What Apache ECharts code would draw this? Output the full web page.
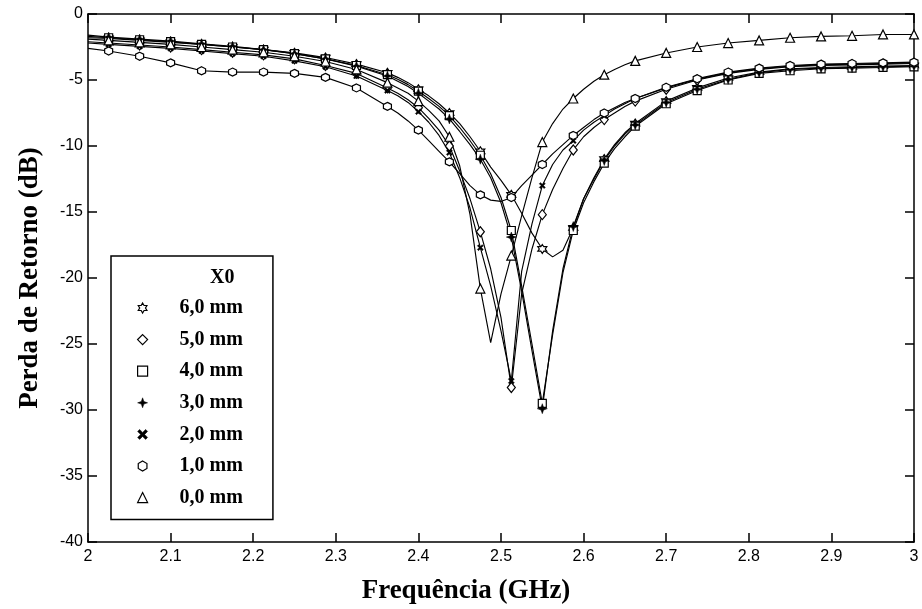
<!DOCTYPE html>
<html>
<head>
<meta charset="utf-8">
<script src="https://cdn.jsdelivr.net/npm/echarts@6/dist/echarts.min.js"></script>
<style>
  html, body { margin: 0; padding: 0; background: #fff; }
  #chart { width: 922px; height: 609px; }
</style>
</head>
<body>
<div id="chart"></div>
<script>
// Frequency samples (GHz); markers sit every 0.0375 GHz starting at 2.025
const freq = [2.0, 2.025, 2.0625, 2.1, 2.1375, 2.175, 2.2125, 2.25, 2.2875, 2.325, 2.3625,
  2.375, 2.3875, 2.4, 2.4125, 2.425, 2.4375, 2.45, 2.4625, 2.475, 2.4875, 2.5, 2.5125,
  2.525, 2.5375, 2.55, 2.5625, 2.575, 2.5875, 2.6, 2.6125, 2.625, 2.6375, 2.65,
  2.6625, 2.7, 2.7375, 2.775, 2.8125, 2.85, 2.8875, 2.925, 2.9625, 3.0];

// Return loss (dB) for each feed offset X0
const rl60 = [-1.8, -1.85, -2.0, -2.15, -2.3, -2.5, -2.7, -2.95, -3.3, -3.8, -4.45,
  -4.8, -5.2, -5.7, -6.2, -6.8, -7.5, -8.3, -9.3, -10.4, -11.6, -12.6, -13.7, -15.1, -16.6, -17.8, -18.4, -17.9, -16.2, -14.0, -12.4, -11.0, -9.9, -9.0,
  -8.3, -6.6, -5.6, -4.85, -4.4, -4.15, -4.05, -4.0, -3.95, -3.9];
const rl50 = [-2.1, -2.2, -2.35, -2.5, -2.7, -2.9, -3.1, -3.4, -3.9, -4.5, -5.6,
  -6.0, -6.5, -7.1, -7.9, -8.8, -10.0, -11.9, -14.0, -16.5, -19.3, -23.0, -28.3, -21.2, -17.8, -15.2, -13.3, -11.7, -10.3, -9.3, -8.6, -8.0, -7.5, -7.0,
  -6.6, -5.7, -5.0, -4.5, -4.2, -4.0, -3.9, -3.85, -3.8, -3.75];
const rl40 = [-1.7, -1.8, -1.95, -2.1, -2.3, -2.5, -2.7, -3.0, -3.4, -3.9, -4.6,
  -4.95, -5.35, -5.85, -6.4, -7.0, -7.7, -8.6, -9.6, -10.7, -12.1, -13.9, -16.4, -20.6, -25.0, -29.5, -24.3, -19.6, -16.4, -14.3, -12.7, -11.3, -10.2, -9.3,
  -8.5, -6.8, -5.8, -5.0, -4.5, -4.3, -4.15, -4.1, -4.05, -4.0];
const rl30 = [-1.6, -1.75, -1.9, -2.05, -2.25, -2.45, -2.7, -3.0, -3.4, -3.95, -4.7,
  -5.1, -5.5, -6.0, -6.6, -7.2, -7.95, -8.9, -9.9, -11.0, -12.4, -14.3, -16.9, -21.0, -25.5, -29.9, -24.0, -19.3, -16.1, -14.0, -12.5, -11.1, -10.0, -9.1,
  -8.4, -6.7, -5.7, -4.95, -4.45, -4.2, -4.1, -4.05, -4.0, -3.95];
const rl20 = [-2.2, -2.3, -2.45, -2.6, -2.8, -3.0, -3.2, -3.55, -4.0, -4.7, -5.8,
  -6.2, -6.7, -7.4, -8.2, -9.2, -10.5, -12.4, -14.7, -17.7, -20.6, -24.0, -27.8, -19.5, -15.9, -13.0, -11.4, -10.3, -9.6, -8.8, -8.2, -7.7, -7.2, -6.8,
  -6.4, -5.6, -4.95, -4.45, -4.15, -3.95, -3.85, -3.8, -3.75, -3.7];
const rl10 = [-2.6, -2.8, -3.2, -3.7, -4.3, -4.4, -4.4, -4.5, -4.8, -5.6, -7.0,
  -7.5, -8.1, -8.8, -9.6, -10.4, -11.2, -12.1, -13.0, -13.7, -14.1, -14.2, -13.9, -13.0, -12.2, -11.4, -10.6, -9.9, -9.2, -8.6, -8.0, -7.5, -7.1, -6.7,
  -6.4, -5.55, -4.9, -4.4, -4.1, -3.9, -3.8, -3.75, -3.7, -3.65];
const rl00 = [-1.9, -2.0, -2.15, -2.3, -2.5, -2.7, -2.9, -3.2, -3.6, -4.2, -5.2,
  -5.6, -6.0, -6.6, -7.3, -8.1, -9.3, -11.5, -15.2, -20.8, -24.9, -21.2, -18.3, -15.3, -12.4, -9.7, -8.3, -7.2, -6.4, -5.7, -5.1, -4.6, -4.2, -3.85,
  -3.55, -2.95, -2.5, -2.2, -2.0, -1.8, -1.7, -1.65, -1.55, -1.55];

const seriesNames = ['6,0 mm', '5,0 mm', '4,0 mm', '3,0 mm', '2,0 mm', '1,0 mm', '0,0 mm'];
const xTickLabels = ['2', '2.1', '2.2', '2.3', '2.4', '2.5', '2.6', '2.7', '2.8', '2.9', '3'];
const yTickLabels = ['-40', '-35', '-30', '-25', '-20', '-15', '-10', '-5', '0'];

// Marker glyphs
const HEXAGRAM = 'path://M0,-10L2.9,-5L8.7,-5L5.8,0L8.7,5L2.9,5L0,10L-2.9,5L-8.7,5L-5.8,0L-8.7,-5L-2.9,-5Z';
const STAR4 = 'path://M0,-10L2.6,-2.6L10,0L2.6,2.6L0,10L-2.6,2.6L-10,0L-2.6,-2.6Z';
const CROSS = 'path://M-10,-6L-6,-10L0,-4L6,-10L10,-6L4,0L10,6L6,10L0,4L-6,10L-10,6L-4,0Z';
const HEXAGON = 'path://M0,-10L8.7,-5L8.7,5L0,10L-8.7,5L-8.7,-5Z';

const styles = [
  { data: rl60, symbol: HEXAGRAM, size: 9, filled: false },
  { data: rl50, symbol: 'diamond', size: [8, 10], filled: false },
  { data: rl40, symbol: 'rect', size: 8, filled: false },
  { data: rl30, symbol: STAR4, size: 10, filled: true },
  { data: rl20, symbol: CROSS, size: 6, filled: true },
  { data: rl10, symbol: HEXAGON, size: 8, filled: false },
  { data: rl00, symbol: 'triangle', size: 9, filled: false }
];

function isMarker(f) {
  const k = (f - 2.025) / 0.0375;
  return f > 2.01 && Math.abs(k - Math.round(k)) < 1e-6;
}

const hollow = { color: '#fff', borderColor: '#000', borderWidth: 1.2 };
const solid = { color: '#000', borderColor: '#000', borderWidth: 0.5 };

const series = styles.map((s, i) => ({
  name: seriesNames[i],
  type: 'line',
  data: freq.map((f, j) => [f, s.data[j]]),
  symbol: (v) => (isMarker(v[0]) ? s.symbol : 'none'),
  symbolSize: s.size,
  showAllSymbol: true,
  lineStyle: { color: '#000', width: 1.15 },
  itemStyle: s.filled ? solid : hollow,
  emphasis: { disabled: true },
  z: 2
}));

const axisLineStyle = { color: '#000', width: 1.5 };
const tickStyle = { inside: true, length: 9, lineStyle: { color: '#000', width: 1.5 } };
const titleFont = { fontFamily: 'Liberation Serif, Times New Roman, serif', fontWeight: 'bold', fontSize: 27, color: '#000' };

const chart = echarts.init(document.getElementById('chart'), null, { renderer: 'canvas' });
chart.setOption({
  animation: false,
  backgroundColor: '#fff',
  grid: { left: 88, right: 8, top: 14, bottom: 67, containLabel: false, outerBoundsMode: 'none' },
  xAxis: [
    {
      type: 'value', min: 2, max: 3, interval: 0.1, position: 'bottom',
      axisLine: { onZero: false, lineStyle: axisLineStyle },
      axisTick: tickStyle,
      splitLine: { show: false },
      axisLabel: {
        color: '#000', fontFamily: 'Liberation Sans, Arial, sans-serif', fontSize: 16, margin: 7,
        formatter: (v) => xTickLabels[Math.round((v - 2) * 10)]
      },
      name: 'Frequência (GHz)', nameLocation: 'middle', nameGap: 36,
      nameTextStyle: Object.assign({ padding: [0, 70, 0, 0] }, titleFont)
    },
    {
      type: 'value', min: 2, max: 3, interval: 0.1, position: 'top',
      axisLine: { onZero: false, lineStyle: axisLineStyle },
      axisTick: tickStyle, axisLabel: { show: false }, splitLine: { show: false }
    }
  ],
  yAxis: [
    {
      type: 'value', min: -40, max: 0, interval: 5, position: 'left',
      axisLine: { onZero: false, lineStyle: axisLineStyle },
      axisTick: tickStyle,
      splitLine: { show: false },
      axisLabel: {
        color: '#000', fontFamily: 'Liberation Sans, Arial, sans-serif', fontSize: 16, margin: 5,
        formatter: (v) => yTickLabels[Math.round((v + 40) / 5)]
      },
      name: 'Perda de Retorno (dB)', nameLocation: 'middle', nameGap: 44,
      nameTextStyle: titleFont
    },
    {
      type: 'value', min: -40, max: 0, interval: 5, position: 'right',
      axisLine: { onZero: false, lineStyle: axisLineStyle },
      axisTick: tickStyle, axisLabel: { show: false }, splitLine: { show: false }
    }
  ],
  legend: {
    orient: 'vertical', left: 111, top: 256,
    padding: [42, 30, 12, 26],
    backgroundColor: '#fff', borderColor: '#000', borderWidth: 1.5, borderRadius: 0,
    itemWidth: 10, itemHeight: 10, itemGap: 11.6,
    selectedMode: false,
    textStyle: {
      fontFamily: 'Liberation Serif, Times New Roman, serif', fontWeight: 'bold',
      fontSize: 20, color: '#000', lineHeight: 20, padding: [0, 0, 0, 27]
    },
    data: styles.map((s, i) => ({
      name: seriesNames[i],
      icon: s.symbol,
      itemStyle: s.filled ? solid : hollow
    }))
  },
  graphic: [
    {
      type: 'text', left: 210, top: 268, z: 100,
      style: { text: 'X0', fontFamily: 'Liberation Serif, Times New Roman, serif', fontWeight: 'bold', fontSize: 20, fill: '#000' }
    }
  ],
  series: series
});
</script>
</body>
</html>
